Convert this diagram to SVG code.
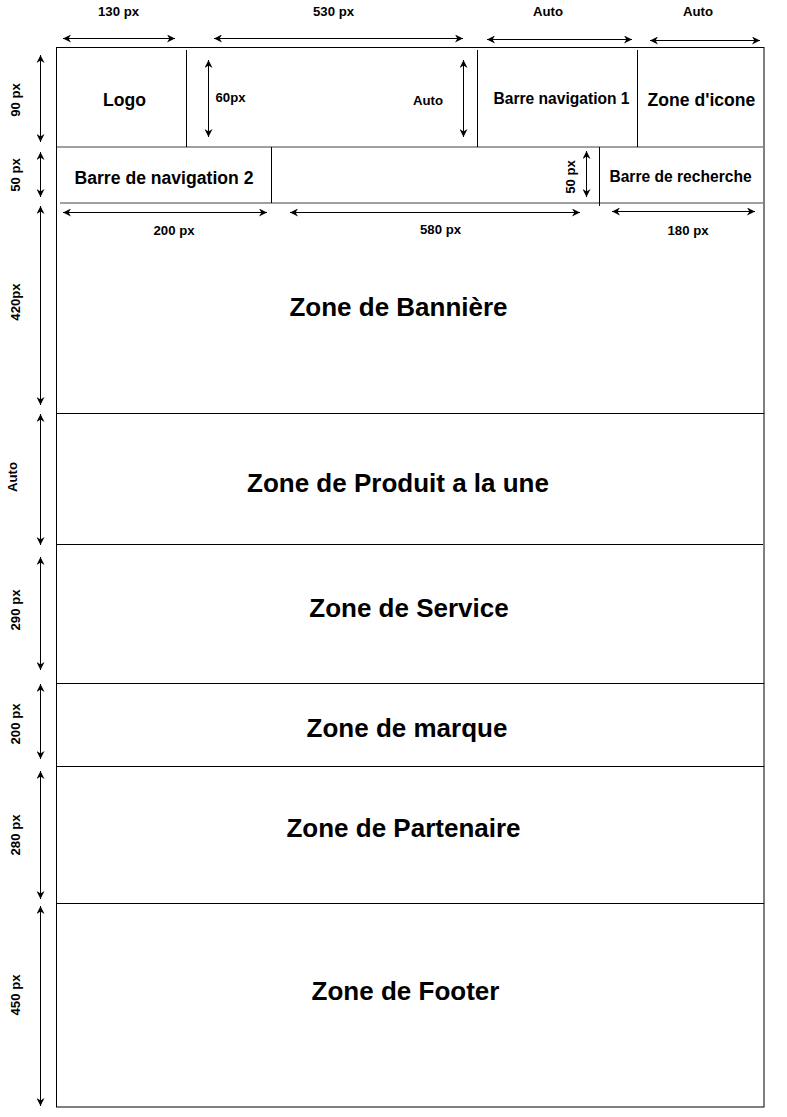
<svg xmlns="http://www.w3.org/2000/svg" width="787" height="1117" viewBox="0 0 787 1117">
<style>
  text { font-family: "Liberation Sans", Arial, sans-serif; font-weight: bold; fill: #000; }
  .dim { font-size: 13.2px; }
  .mid { font-size: 15.6px; }
  .hdr { font-size: 17.6px; }
  .zone { font-size: 26px; }
  .edge { stroke: #000; stroke-width: 1; fill: none; }
  .gray { stroke: #808080; stroke-width: 1.5; fill: none; }
  .arr { stroke: #000; stroke-width: 1; fill: none; marker-start: url(#ah); marker-end: url(#ah); }
</style>
<defs>
  <marker id="ah" viewBox="0 0 10 10" refX="10" refY="5" markerWidth="8" markerHeight="8" markerUnits="userSpaceOnUse" orient="auto-start-reverse">
    <path d="M0,0 L10,5 L0,10 L3,5 z" fill="#000"/>
  </marker>
</defs>
<rect width="787" height="1117" fill="#fff"/>

<g id="frame">
  <rect class="edge" x="56.5" y="47.5" width="707.5" height="1059.5"/>
  <line class="gray" x1="57" y1="147" x2="764" y2="147"/>
  <line class="gray" x1="60" y1="203" x2="764" y2="203"/>
  <line class="edge" x1="57" y1="413.5" x2="764" y2="413.5"/>
  <line class="edge" x1="57" y1="544.5" x2="763" y2="544.5"/>
  <line class="edge" x1="57" y1="683.5" x2="764" y2="683.5"/>
  <line class="edge" x1="57" y1="766.5" x2="764" y2="766.5"/>
  <line class="edge" x1="57" y1="903.5" x2="764" y2="903.5"/>
</g>

<g id="logo">
  <line class="edge" x1="186.5" y1="50" x2="186.5" y2="147"/>
  <text class="hdr" x="124.5" y="106" text-anchor="middle">Logo</text>
</g>
<g id="espace-auto">
  <line class="edge" x1="477.5" y1="50" x2="477.5" y2="147"/>
</g>
<g id="barre-navigation-1">
  <line class="edge" x1="637.5" y1="50" x2="637.5" y2="147"/>
  <text class="mid" x="561.5" y="103.5" text-anchor="middle">Barre navigation 1</text>
</g>
<g id="zone-icone">
  <text class="hdr" x="701.5" y="105.5" text-anchor="middle">Zone d'icone</text>
</g>
<g id="barre-navigation-2">
  <line class="edge" x1="271.5" y1="147" x2="271.5" y2="203"/>
  <text class="hdr" x="164" y="184" text-anchor="middle">Barre de navigation 2</text>
</g>
<g id="barre-recherche">
  <line class="edge" x1="599.5" y1="147" x2="599.5" y2="206"/>
  <text class="mid" x="680.5" y="181.5" text-anchor="middle">Barre de recherche</text>
</g>
<g id="zone-banniere">
  <text class="zone" x="398.5" y="316" text-anchor="middle">Zone de Bannière</text>
</g>
<g id="zone-produit">
  <text class="zone" x="398" y="491.5" text-anchor="middle">Zone de Produit a la une</text>
</g>
<g id="zone-service">
  <text class="zone" x="409" y="616.5" text-anchor="middle">Zone de Service</text>
</g>
<g id="zone-marque">
  <text class="zone" x="407" y="736.5" text-anchor="middle">Zone de marque</text>
</g>
<g id="zone-partenaire">
  <text class="zone" x="403.5" y="836.5" text-anchor="middle">Zone de Partenaire</text>
</g>
<g id="zone-footer">
  <text class="zone" x="405.5" y="999.5" text-anchor="middle">Zone de Footer</text>
</g>

<g id="connectors">
  <!-- top widths -->
  <line class="arr" x1="63" y1="38.5" x2="175" y2="38.5"/>
  <line class="arr" x1="214" y1="38.5" x2="463" y2="38.5"/>
  <line class="arr" x1="487" y1="39.5" x2="632" y2="39.5"/>
  <line class="arr" x1="650" y1="40.5" x2="760" y2="40.5"/>
  <!-- inner heights -->
  <line class="arr" x1="208.5" y1="60" x2="208.5" y2="137"/>
  <line class="arr" x1="463.5" y1="60" x2="463.5" y2="137"/>
  <line class="arr" x1="586.5" y1="151" x2="586.5" y2="197"/>
  <!-- row 2 widths -->
  <line class="arr" x1="63" y1="212.5" x2="267" y2="212.5"/>
  <line class="arr" x1="290" y1="212.5" x2="580" y2="212.5"/>
  <line class="arr" x1="612" y1="211.5" x2="755" y2="211.5"/>
  <!-- left heights -->
  <line class="arr" x1="40.5" y1="55" x2="40.5" y2="142"/>
  <line class="arr" x1="40.5" y1="152" x2="40.5" y2="197"/>
  <line class="arr" x1="40.5" y1="206" x2="40.5" y2="405"/>
  <line class="arr" x1="40.5" y1="414" x2="40.5" y2="545"/>
  <line class="arr" x1="40.5" y1="557" x2="40.5" y2="670"/>
  <line class="arr" x1="40.5" y1="684" x2="40.5" y2="759"/>
  <line class="arr" x1="40.5" y1="771" x2="40.5" y2="899"/>
  <line class="arr" x1="40.5" y1="906" x2="40.5" y2="1106"/>
</g>

<g id="dimension-labels">
  <text class="dim" x="118.5" y="16" text-anchor="middle">130 px</text>
  <text class="dim" x="333.5" y="16" text-anchor="middle">530 px</text>
  <text class="dim" x="548" y="16" text-anchor="middle">Auto</text>
  <text class="dim" x="698" y="16" text-anchor="middle">Auto</text>
  <text class="dim" x="215.5" y="101.5">60px</text>
  <text class="dim" x="428" y="104.5" text-anchor="middle">Auto</text>
  <text class="dim" x="174" y="235" text-anchor="middle">200 px</text>
  <text class="dim" x="440.5" y="233.5" text-anchor="middle">580 px</text>
  <text class="dim" x="688" y="235" text-anchor="middle">180 px</text>
  <text class="dim" transform="translate(575,177) rotate(-90)" text-anchor="middle">50 px</text>
  <text class="dim" transform="translate(19.5,100) rotate(-90)" text-anchor="middle">90 px</text>
  <text class="dim" transform="translate(19.5,175) rotate(-90)" text-anchor="middle">50 px</text>
  <text class="dim" transform="translate(19.5,302) rotate(-90)" text-anchor="middle">420px</text>
  <text class="dim" transform="translate(16.5,477) rotate(-90)" text-anchor="middle">Auto</text>
  <text class="dim" transform="translate(19.5,610) rotate(-90)" text-anchor="middle">290 px</text>
  <text class="dim" transform="translate(19.5,724) rotate(-90)" text-anchor="middle">200 px</text>
  <text class="dim" transform="translate(19.5,835) rotate(-90)" text-anchor="middle">280 px</text>
  <text class="dim" transform="translate(19.5,995) rotate(-90)" text-anchor="middle">450 px</text>
</g>
</svg>
